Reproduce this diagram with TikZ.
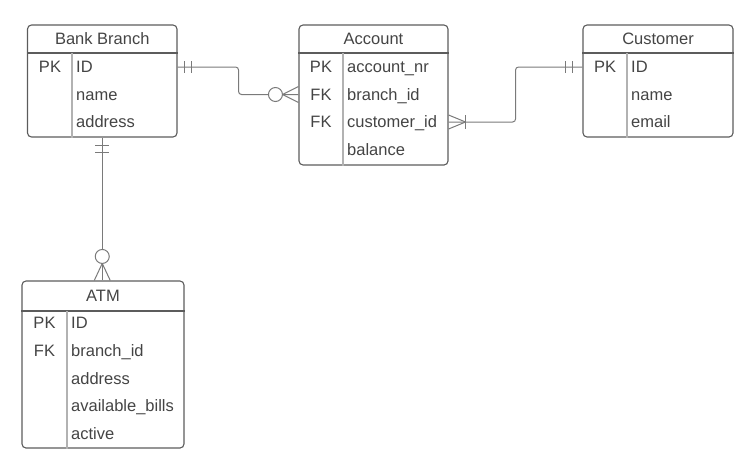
\documentclass[tikz,border=0pt]{standalone}
\usepackage{fontspec}
\setmainfont{Liberation Sans}
\usetikzlibrary{positioning}
\definecolor{boxline}{HTML}{5C5C5C}
\definecolor{boxtext}{HTML}{444444}
\definecolor{sepline}{HTML}{B2B2B2}
\definecolor{relline}{HTML}{7A7A7A}
\tikzset{
  entity/.style={draw=boxline, line width=1.1pt, rounded corners=4pt},
  title/.style={text=boxtext, font=\fontsize{16.5}{19}\selectfont},
  key/.style={text=boxtext, inner sep=0pt, text height=11.8pt, text depth=0pt, font=\fontsize{16.5}{19}\selectfont},
  field/.style={key, anchor=west},
  rel/.style={draw=relline, line width=1pt},
}
\begin{document}
\begin{tikzpicture}[x=1pt,y=-1pt]
\useasboundingbox (0,0) rectangle (754,464);
% entities
\node[entity, minimum width=149.5pt, minimum height=112pt] (bank) at (102.25,81) {};
\node[entity, minimum width=149pt, minimum height=140pt] (acc) at (373.5,95) {};
\node[entity, minimum width=150pt, minimum height=112pt] (cust) at (658,81) {};
\node[entity, minimum width=162pt, minimum height=167pt] (atm) at (103,364.5) {};
% headers and key columns
\draw[boxline, line width=1.1pt] (bank.west |- 0,53) -- (bank.east |- 0,53);
\draw[boxline, line width=1.1pt] (acc.west |- 0,53) -- (acc.east |- 0,53);
\draw[boxline, line width=1.1pt] (cust.west |- 0,53) -- (cust.east |- 0,53);
\draw[boxline, line width=1.1pt] (atm.west |- 0,311) -- (atm.east |- 0,311);
\draw[sepline, line width=1.1pt] (72,53) -- (72,0 |- bank.south);
\draw[sepline, line width=1.1pt] (343,53) -- (343,0 |- acc.south);
\draw[sepline, line width=1.1pt] (627,53) -- (627,0 |- cust.south);
\draw[sepline, line width=1.1pt] (67,311) -- (67,0 |- atm.south);
% Bank Branch
\node[title] (bankname) at (102.25,39) {Bank Branch};
\node[key] (bpk) at (50,67) {PK};
\node[field] (bid) at (76,67) {ID};
\node[field] (bname) at (76,94.5) {name};
\node[field] (baddr) at (76,122) {address};
% Account
\node[title] (accname) at (373.5,39) {Account};
\node[key] (apk) at (321,67) {PK};
\node[key] (afk1) at (321,94.5) {FK};
\node[key] (afk2) at (321,122) {FK};
\node[field] (anr) at (347,67) {account\_nr};
\node[field] (abr) at (347,94.5) {branch\_id};
\node[field] (acu) at (347,122) {customer\_id};
\node[field] (abal) at (347,150) {balance};
% Customer
\node[title] (custname) at (658,39) {Customer};
\node[key] (cpk) at (605,67) {PK};
\node[field] (cid) at (631,67) {ID};
\node[field] (cname) at (631,94.5) {name};
\node[field] (cmail) at (631,122) {email};
% ATM
\node[title] (atmname) at (103,296) {ATM};
\node[key] (tpk) at (44.5,323) {PK};
\node[key] (tfk) at (44.5,351) {FK};
\node[field] (tid) at (71,323) {ID};
\node[field] (tbr) at (71,351) {branch\_id};
\node[field] (taddr) at (71,378.5) {address};
\node[field] (tbill) at (71,406) {available\_bills};
\node[field] (tact) at (71,433.5) {active};
% Bank Branch -- Account
\coordinate (r1a) at (bank.east |- bid);
\coordinate (r1b) at (acc.west |- abr);
\draw[rel, rounded corners=3pt] (r1a) -- ++(61,0) |- (r1b);
\draw[rel] (r1a) ++(7,-6) -- ++(0,12) (r1a) ++(14,-6) -- ++(0,12);
\draw[rel] (r1b) ++(-16,0) -- ++(16,-8) (r1b) ++(-16,0) -- ++(16,8);
\draw[rel, fill=white] (r1b) ++(-23,0) circle (7pt);
% Account -- Customer
\coordinate (r2a) at (acc.east |- acu);
\coordinate (r2b) at (cust.west |- cid);
\draw[rel, rounded corners=3pt] (r2a) -- ++(67,0) |- (r2b);
\draw[rel] (r2a) ++(17,0) -- ++(-17,-7) (r2a) ++(17,0) -- ++(-17,7);
\draw[rel] (r2a) ++(17,-7) -- ++(0,14);
\draw[rel] (r2b) ++(-17,-6) -- ++(0,12) (r2b) ++(-10,-6) -- ++(0,12);
% Bank Branch -- ATM
\coordinate (r3a) at (bank.south);
\coordinate (r3b) at (bank.south |- atm.north);
\draw[rel] (r3a) -- (r3b);
\draw[rel] (r3a) ++(-7,8) -- ++(14,0) (r3a) ++(-7,15) -- ++(14,0);
\draw[rel] (r3b) ++(0,-17) -- ++(-8,17) (r3b) ++(0,-17) -- ++(8,17);
\draw[rel, fill=white] (r3b) ++(0,-24) circle (7pt);
\end{tikzpicture}
\end{document}
